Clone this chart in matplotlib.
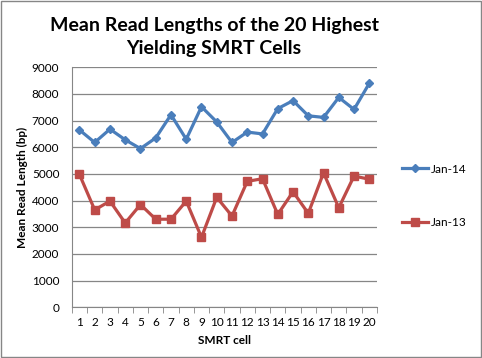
import matplotlib.pyplot as plt
from matplotlib.lines import Line2D
from matplotlib.patches import Rectangle

cells = list(range(1, 21))
jan14 = [6650, 6180, 6680, 6280, 5950, 6350, 7220, 6300, 7520, 6950,
         6180, 6570, 6500, 7450, 7750, 7180, 7120, 7870, 7420, 8400]
jan13 = [4980, 3650, 3980, 3160, 3850, 3300, 3300, 3980, 2620, 4120,
         3420, 4720, 4820, 3480, 4330, 3520, 5040, 3730, 4920, 4800]

blue = '#4A7EBB'
red = '#BE4B48'
plt.rcParams['font.family'] = ['Lato', 'DejaVu Sans']

fig = plt.figure(figsize=(4.82, 3.58), dpi=100)
ax = fig.add_axes([0.149, 0.142, 0.633, 0.670])

ax.plot(cells, jan14, color=blue, lw=2.3, marker='D', ms=4.5, mec=blue, mfc=blue)
ax.plot(cells, jan13, color=red, lw=2.3, marker='s', ms=5.8, mec=red, mfc=red)

ax.set_xlim(0.5, 20.5)
ax.set_ylim(0, 9000)
ax.set_yticks(range(0, 9001, 1000))
ax.set_xticks(cells)
ax.set_xticks([c + 0.5 for c in range(0, 21)], minor=True)
ax.tick_params(axis='x', which='major', length=0, labelsize=8.5, pad=7)
ax.tick_params(axis='x', which='minor', length=4, color='#868686')
ax.tick_params(axis='y', length=0, labelsize=8.5, pad=9)
ax.grid(axis='y', color='#868686', lw=0.9)
ax.set_axisbelow(True)
for s in ['top', 'right']:
    ax.spines[s].set_visible(False)
for s in ['left', 'bottom']:
    ax.spines[s].set_color('#868686')

ax.set_xlabel('SMRT cell', fontsize=8.5, fontweight='bold', labelpad=5)
ax.set_ylabel('Mean Read Length (bp)', fontsize=8.5, fontweight='bold', labelpad=3)

fig.text(0.444, 0.896, 'Mean Read Lengths of the 20 Highest\nYielding SMRT Cells',
         ha='center', va='center', fontsize=14, fontweight='bold', linespacing=1.4)

handles = [Line2D([], [], color=blue, lw=2.3, marker='D', ms=4.5),
           Line2D([], [], color=red, lw=2.3, marker='s', ms=5.8)]
fig.legend(handles, ['Jan-14', 'Jan-13'], loc='center left',
           bbox_to_anchor=(0.812, 0.453), frameon=False, fontsize=8.5,
           handlelength=2.2, handletextpad=0.2, labelspacing=3.6)

fig.patches.append(Rectangle((0.002, 0.003), 0.995, 0.994, transform=fig.transFigure,
                             fill=False, ec='#868686', lw=1))

fig.savefig('out.png', dpi=100)
